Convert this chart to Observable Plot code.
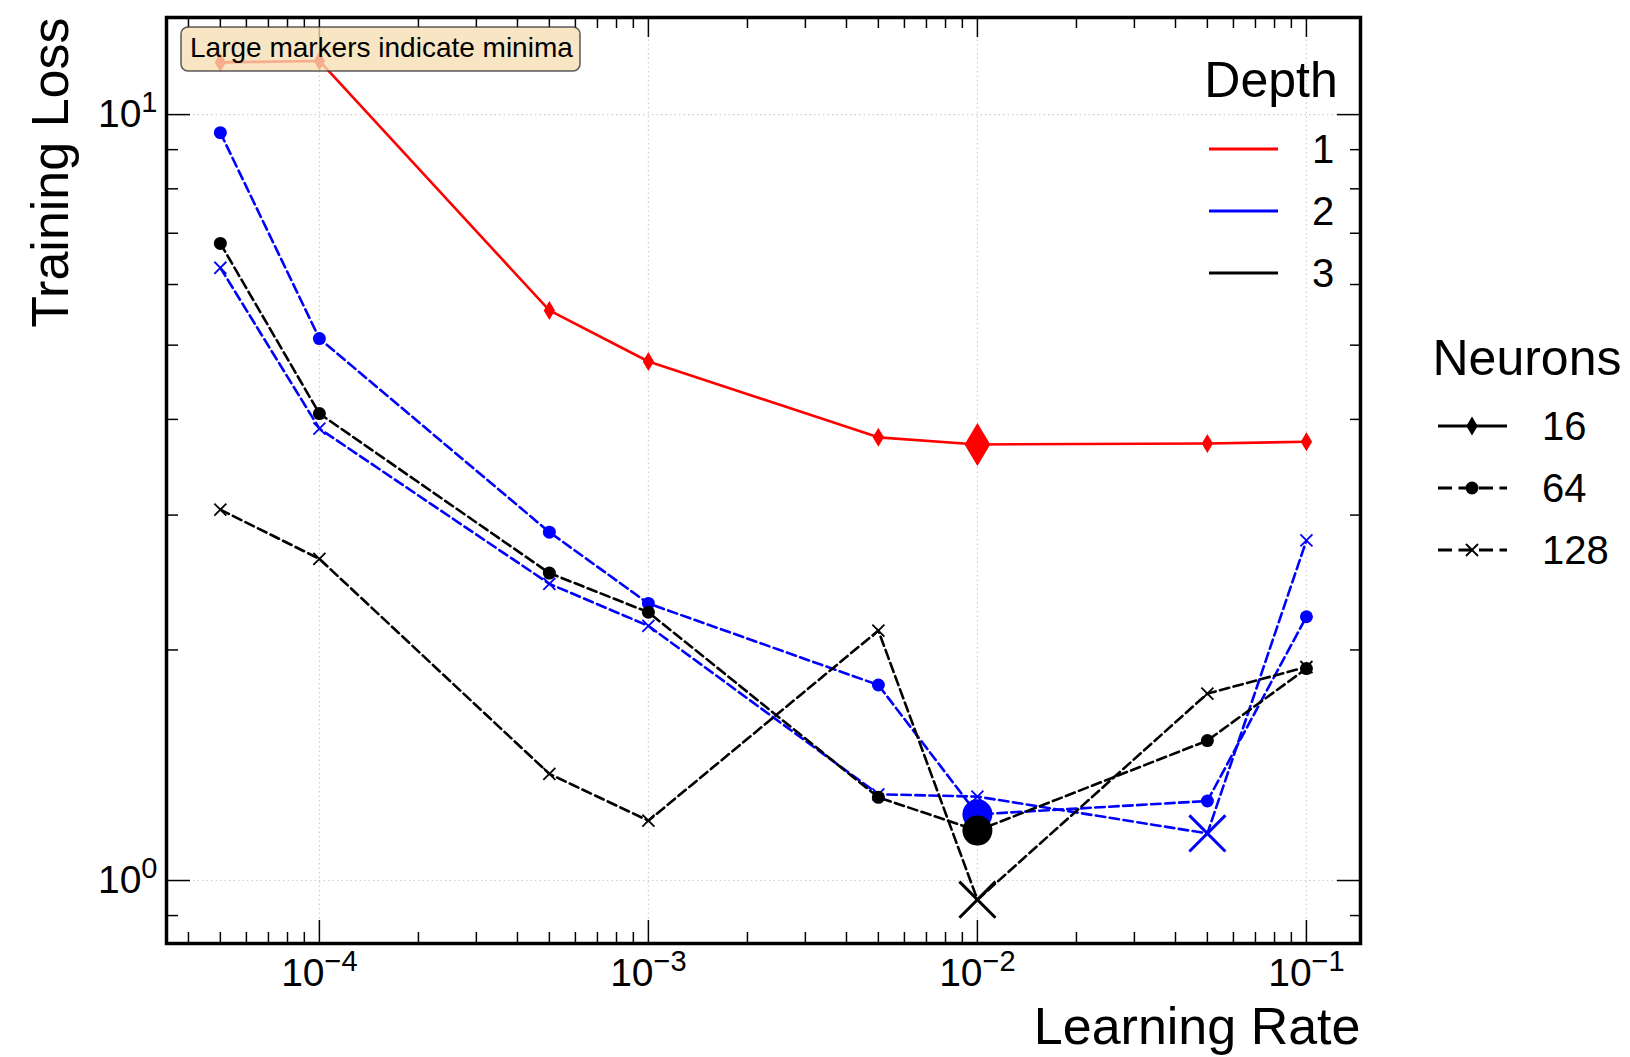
<!DOCTYPE html>
<html>
<head>
<meta charset="utf-8">
<script src="https://cdn.jsdelivr.net/npm/d3@7"></script>
<script src="https://cdn.jsdelivr.net/npm/@observablehq/plot@0.6"></script>
<style>
  html, body { margin: 0; padding: 0; background: #fff; }
  #chart { width: 1630px; height: 1057px; }
  svg { font-family: "Liberation Sans", Arial, Helvetica, sans-serif; }
</style>
</head>
<body>
<div id="chart"></div>
<script>
// ---------------- data ----------------
const learningRates = [5e-5, 1e-4, 5e-4, 1e-3, 5e-3, 1e-2, 5e-2, 1e-1];
const lossDepth1N16  = [11.7, 11.75, 5.55, 4.76, 3.79, 3.71, 3.72, 3.74];
const lossDepth2N64  = [9.47, 5.10, 2.85, 2.30, 1.80, 1.22, 1.27, 2.21];
const lossDepth2N128 = [6.31, 3.89, 2.44, 2.15, 1.296, 1.287, 1.152, 2.78];
const lossDepth3N64  = [6.79, 4.07, 2.52, 2.24, 1.284, 1.162, 1.523, 1.891];
const lossDepth3N128 = [3.05, 2.63, 1.378, 1.197, 2.12, 0.944, 1.754, 1.90];

const depthLevels = [1, 2, 3];
const neuronLevels = [16, 64, 128];
const xMajorTicks = [1e-4, 1e-3, 1e-2, 1e-1];
const yMajorTicks = [1, 10];
const xTitle = "Learning Rate";
const yTitle = "Training Loss";
const noteText = "Large markers indicate minima";
const depthTitle = "Depth";
const neuronTitle = "Neurons";

const seriesList = [
  {depth: 1, neurons: 16,  loss: lossDepth1N16},
  {depth: 2, neurons: 64,  loss: lossDepth2N64},
  {depth: 2, neurons: 128, loss: lossDepth2N128},
  {depth: 3, neurons: 64,  loss: lossDepth3N64},
  {depth: 3, neurons: 128, loss: lossDepth3N128}
];

// ---------------- styles ----------------
const depthColor = {1: "#ff0000", 2: "#0000ff", 3: "#000000"};
const DASH = "9.5,4.5";
const neuronDash = {16: null, 64: DASH, 128: DASH};

const thinDiamond = {
  draw(ctx, size) {
    const r = Math.sqrt(size / Math.PI);
    ctx.moveTo(0, -r); ctx.lineTo(0.6 * r, 0); ctx.lineTo(0, r); ctx.lineTo(-0.6 * r, 0); ctx.closePath();
  }
};
const xCross = {
  draw(ctx, size) {
    const r = Math.sqrt(size / Math.PI) * 0.7071;
    ctx.moveTo(-r, -r); ctx.lineTo(r, r); ctx.moveTo(-r, r); ctx.lineTo(r, -r);
  }
};
const markerStyle = {
  16:  {small: {symbol: thinDiamond, r: 8, sw: 1.5, filled: true},  big: {symbol: thinDiamond, r: 20, sw: 1.5, filled: true}},
  64:  {small: {symbol: "circle", r: 6.5, sw: 0, filled: true},      big: {symbol: "circle", r: 15, sw: 0, filled: true}},
  128: {small: {symbol: xCross, r: 8.5, sw: 1.8, filled: false},     big: {symbol: xCross, r: 25.5, sw: 3, filled: false}}
};

// ---------------- derived tables ----------------
const tables = seriesList.map(s => ({
  ...s,
  rows: learningRates.map((lr, i) => ({lr, loss: s.loss[i]}))
}));

const xDomain = [3.43e-5, 0.146];
const yDomain = [0.8275, 13.39];
const xMinorTicks = [];
for (let k = -5; k <= -1; k++) for (let m = 2; m <= 9; m++) {
  const v = m * Math.pow(10, k);
  if (v > xDomain[0] && v < xDomain[1]) xMinorTicks.push(v);
}
const yMinorTicks = [];
for (let k = -1; k <= 1; k++) for (let m = 2; m <= 9; m++) {
  const v = m * Math.pow(10, k);
  if (v > yDomain[0] && v < yDomain[1]) yMinorTicks.push(v);
}

function dotMark(rows, color, st) {
  return Plot.dot(rows, {
    x: "lr", y: "loss", symbol: st.symbol, r: st.r,
    fill: st.filled ? color : "none",
    stroke: color,
    strokeWidth: st.sw,
    strokeOpacity: st.sw > 0 ? 1 : 0
  });
}

const lineMarks = tables.map(t => Plot.line(t.rows, {
  x: "lr", y: "loss", stroke: depthColor[t.depth], strokeWidth: 2.6,
  strokeDasharray: neuronDash[t.neurons] || undefined
}));
const smallDots = tables.map(t => dotMark(t.rows, depthColor[t.depth], markerStyle[t.neurons].small));
const bigDots = tables.map(t => {
  const minLoss = d3.min(t.rows, d => d.loss);
  return dotMark(t.rows.filter(d => d.loss === minLoss), depthColor[t.depth], markerStyle[t.neurons].big);
});

const tickCommon = {fill: "none", label: null, stroke: "black", strokeWidth: 1.5};

const chart = Plot.plot({
  width: 1630,
  height: 1057,
  marginLeft: 166,
  marginRight: 270,
  marginTop: 17,
  marginBottom: 114,
  style: {background: "white", color: "black", fontFamily: "Liberation Sans, Arial, Helvetica, sans-serif", overflow: "visible"},
  x: {type: "log", domain: xDomain, label: null},
  y: {type: "log", domain: yDomain, label: null},
  marks: [
    Plot.gridX({ticks: xMajorTicks, stroke: "#cfcfcf", strokeOpacity: 1, strokeWidth: 1.2, strokeDasharray: "1.5,3"}),
    Plot.gridY({ticks: yMajorTicks, stroke: "#cfcfcf", strokeOpacity: 1, strokeWidth: 1.2, strokeDasharray: "1.5,3"}),
    ...lineMarks,
    ...smallDots,
    ...bigDots,
    Plot.axisX({anchor: "bottom", ticks: xMajorTicks, tickSize: -23, ...tickCommon}),
    Plot.axisX({anchor: "bottom", ticks: xMinorTicks, tickSize: -11, ...tickCommon}),
    Plot.axisX({anchor: "top", ticks: xMajorTicks, tickSize: -19, ...tickCommon}),
    Plot.axisX({anchor: "top", ticks: xMinorTicks, tickSize: -10, ...tickCommon}),
    Plot.axisY({anchor: "left", ticks: yMajorTicks, tickSize: -24, ...tickCommon}),
    Plot.axisY({anchor: "left", ticks: yMinorTicks, tickSize: -12, ...tickCommon}),
    Plot.axisY({anchor: "right", ticks: yMajorTicks, tickSize: -24, ...tickCommon}),
    Plot.axisY({anchor: "right", ticks: yMinorTicks, tickSize: -11, ...tickCommon}),
    Plot.axisX({anchor: "bottom", ticks: xMajorTicks, tickSize: 0, tickPadding: 15, fontSize: 39, label: null,
      tickFormat: v => `10^${Math.round(Math.log10(v))}`}),
    Plot.axisY({anchor: "left", ticks: yMajorTicks, tickSize: 0, tickPadding: 9, fontSize: 39, label: null,
      tickFormat: v => `10^${Math.round(Math.log10(v))}`}),
    Plot.frame({stroke: "black", strokeWidth: 3.5}),
    Plot.text([xTitle], {frameAnchor: "bottom-right", textAnchor: "end", dy: 100, fontSize: 52, fill: "black"}),
    Plot.text([yTitle], {frameAnchor: "top-left", textAnchor: "end", rotate: -90, dx: -135, fontSize: 52, fill: "black"})
  ]
});

document.getElementById("chart").appendChild(chart);

// ---------- superscript exponents on tick labels ----------
const svg = d3.select(chart);
svg.selectAll('g[aria-label="x-axis tick label"] text, g[aria-label="y-axis tick label"] text').each(function () {
  const t = d3.select(this);
  const s = t.text();
  if (!s.includes("^")) return;
  const [base, exp] = s.split("^");
  t.text(null);
  t.append("tspan").text(base);
  t.append("tspan").attr("dy", -15).attr("font-size", 29).text(exp.replace("-", "\u2212"));
});

const fontFam = "Liberation Sans, Arial, Helvetica, sans-serif";

// ---------- annotation box ----------
const note = svg.append("g").attr("font-family", fontFam).attr("text-anchor", "start");
note.append("rect").attr("x", 181).attr("y", 27).attr("width", 399).attr("height", 44).attr("rx", 7)
  .attr("fill", "#f5deb3").attr("fill-opacity", 0.78).attr("stroke", "#333").attr("stroke-opacity", 0.8).attr("stroke-width", 1.5);
note.append("text").attr("x", 190).attr("y", 57).attr("text-anchor", "start").attr("font-size", 28).attr("fill", "black").text(noteText);

// ---------- legends ----------
const depthLeg = svg.append("g").attr("font-family", fontFam);
depthLeg.append("text").attr("x", 1271).attr("y", 97).attr("text-anchor", "middle").attr("font-size", 50).text(depthTitle);
const depthY = [149, 211, 273];
depthLevels.forEach((d, i) => {
  depthLeg.append("line").attr("x1", 1209).attr("x2", 1278).attr("y1", depthY[i]).attr("y2", depthY[i])
    .attr("stroke", depthColor[d]).attr("stroke-width", 3);
  depthLeg.append("text").attr("x", 1312).attr("y", depthY[i]).attr("dy", "0.36em").attr("text-anchor", "start")
    .attr("font-size", 40).text(String(d));
});

const neuLeg = svg.append("g").attr("font-family", fontFam);
neuLeg.append("text").attr("x", 1527).attr("y", 375).attr("text-anchor", "middle").attr("font-size", 50).text(neuronTitle);
const neuY = [426, 488, 550];
neuronLevels.forEach((n, i) => {
  const y = neuY[i];
  const ln = neuLeg.append("line").attr("x1", 1438).attr("x2", 1507).attr("y1", y).attr("y2", y)
    .attr("stroke", "black").attr("stroke-width", 3);
  if (neuronDash[n]) ln.attr("stroke-dasharray", "14,6.5");
  const st = markerStyle[n].small;
  const sym = typeof st.symbol === "string" ? d3.symbolCircle : st.symbol;
  const path = d3.path();
  sym.draw(path, st.r * st.r * Math.PI);
  neuLeg.append("path").attr("transform", `translate(1472,${y})`).attr("d", path.toString())
    .attr("fill", st.filled ? "black" : "none").attr("stroke", "black").attr("stroke-width", st.sw);
  neuLeg.append("text").attr("x", 1542).attr("y", y).attr("dy", "0.36em").attr("text-anchor", "start")
    .attr("font-size", 40).text(String(n));
});
</script>
</body>
</html>
